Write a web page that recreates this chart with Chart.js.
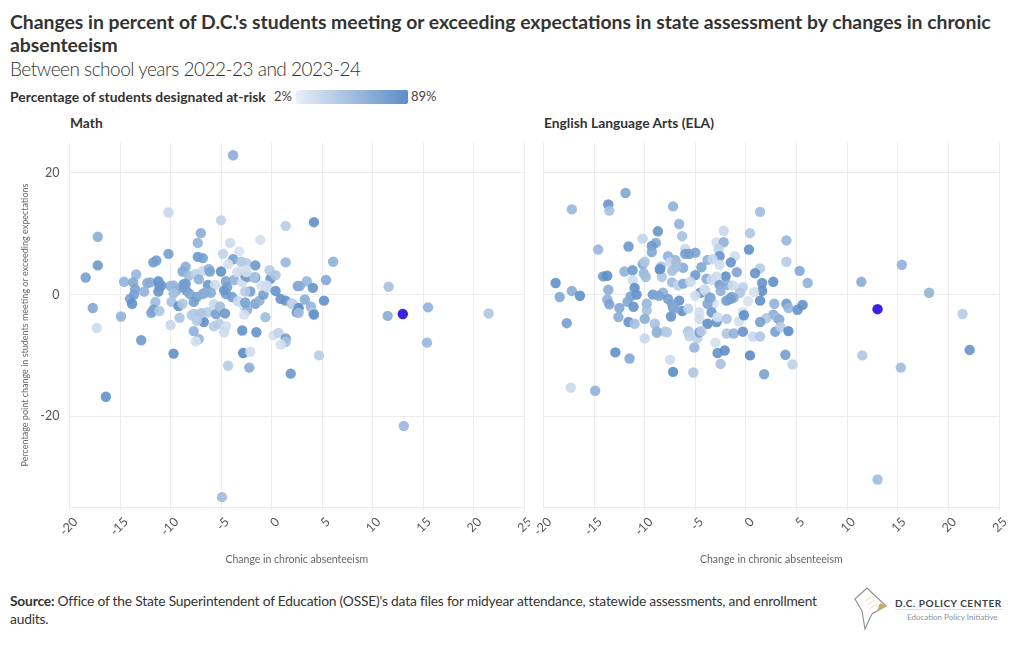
<!DOCTYPE html>
<html>
<head>
<meta charset="utf-8">
<title>Chronic absenteeism and assessment scores</title>
<script src="https://cdn.jsdelivr.net/npm/chart.js@4/dist/chart.umd.min.js"></script>
<style>
    body { margin: 0; width: 1020px; height: 650px; background: #fff; overflow: hidden; position: relative;
        font-family: Lato, "Noto Sans", sans-serif; color: #333; }
    .abs { position: absolute; white-space: nowrap; }
    canvas { position: absolute; }
    #title { left: 10px; top: 10px; font-size: 19.35px; font-weight: 700; line-height: 23px; color: #333; }
    #subtitle { left: 10px; top: 56px; font-size: 19px; font-weight: 300; letter-spacing: -0.5px; line-height: 26px; color: #333; }
    #legendTitle { left: 10px; top: 88px; font-size: 13.9px; font-weight: 700; line-height: 17px; }
    #legendMin { left: 274px; top: 88px; font-size: 13px; line-height: 17px; color: #444; }
    #legendMax { left: 411px; top: 88px; font-size: 13px; line-height: 17px; color: #444; }
    #legendBar { left: 296px; top: 90px; width: 112px; height: 14px; border-radius: 2px;
        background: linear-gradient(to right, #e8eef6, #5c8dc6); }
    .panel { top: 114px; font-size: 13.8px; font-weight: 700; line-height: 17px; }
    #source { left: 10px; top: 592px; font-size: 13.8px; letter-spacing: -0.2px; line-height: 18px; color: #333; }
    #logoName { left: 895px; top: 596px; font-size: 10px; font-weight: 700; letter-spacing: 0.55px; line-height: 14px; color: #3a3f4a; }
    #logoRule { left: 895px; top: 609px; width: 108px; height: 1px; background: #f0dfa8; }
    #logoSub { left: 907px; top: 611px; font-size: 8px; line-height: 12px; color: #8a93a0; }
</style>
</head>
<body>
<div id="title" class="abs">Changes in percent of D.C.'s students meeting or exceeding expectations in state assessment by changes in chronic<br>absenteeism</div>
<div id="subtitle" class="abs">Between school years 2022-23 and 2023-24</div>
<div id="legendTitle" class="abs">Percentage of students designated at-risk</div>
<div id="legendMin" class="abs">2%</div>
<div id="legendBar" class="abs"></div>
<div id="legendMax" class="abs">89%</div>
<div class="abs panel" style="left:70px">Math</div>
<div class="abs panel" style="left:544px">English Language Arts (ELA)</div>
<canvas id="mathChart" width="530" height="445" style="left:0;top:130px"></canvas>
<canvas id="elaChart" width="500" height="445" style="left:510px;top:130px"></canvas>
<div id="source" class="abs"><b>Source:</b> Office of the State Superintendent of Education (OSSE)'s data files for midyear attendance, statewide assessments, and enrollment<br>audits.</div>
<svg class="abs" style="left:853px;top:587px" width="36" height="44" viewBox="0 0 36 44">
    <path d="M2 12 L14 1 L33 19 L19 27 L16 33 L12 42 L9 24 Z" fill="#fff" stroke="#8a8f9a" stroke-width="1.1"/>
    <path d="M24 24 L33 19 L27 16 Z" fill="#c9ad5a"/>
    <path d="M12 14 L20 9 M14 18 L22 13 M16 22 L24 17" stroke="#f0dfa8" stroke-width="1"/>
</svg>
<div id="logoName" class="abs">D.C. POLICY CENTER</div>
<div id="logoRule" class="abs"></div>
<div id="logoSub" class="abs">Education Policy Initiative</div>

<script>
// Ticks
const xTicks = [-20, -15, -10, -5, 0, 5, 10, 15, 20, 25];
const yTicks = [20, 0, -20];

// Math panel: change in chronic absenteeism, point change in score, percent at-risk
const mathChange = [-3.8,-10.2,-5.0,1.4,-17.2,-7.0,-7.3,-4.1,-1.1,-10.2,-7.3,-6.8,-4.8,-3.2,-11.4,-11.7,-17.2,-18.4,-13.4,-14.6,-13.7,-13.5,-12.6,-12.3,-12.0,-11.2,-11.1,-11.2,-13.6,-14.0,-13.8,-11.5,-17.7,-14.9,-17.3,-11.7,-11.9,-11.1,-10.0,-9.7,-9.6,-9.9,-9.2,-8.8,-9.1,-10.0,-8.5,-8.8,-8.2,-8.7,-8.4,-8.1,-7.4,-7.7,-7.5,-6.8,-7.2,-6.2,-6.1,-5.0,-6.3,-5.6,-6.6,-6.0,-4.5,-3.7,-4.4,-4.5,-3.9,-3.3,-2.7,-2.4,-1.6,-1.2,-0.8,-2.1,-2.6,-2.9,-3.8,-4.3,-3.0,-2.5,-1.6,-3.0,-2.5,-1.8,-1.6,-2.4,-0.1,-0.2,0.4,1.4,-1.0,-0.4,0.4,0.9,1.4,2.0,2.6,2.6,2.5,-7.7,-7.1,-6.7,-6.3,-5.7,-5.5,-5.1,-4.6,-5.7,-5.2,-4.5,-4.7,-7.7,-7.2,-7.5,-12.9,-9.7,-16.4,-4.9,-4.3,-2.9,-1.5,-0.6,-2.7,-2.8,-2.1,-2.2,0.2,0.7,1.4,1.4,0.9,1.9,4.2,6.1,5.4,3.5,2.8,4.1,5.2,3.3,2.1,2.7,2.7,3.9,4.1,4.2,4.7,11.6,11.5,15.5,21.5,15.4,13.1,-9.4,-9.7,-6.8,-4.7,-2.6,-1.7,-0.5,-2.6,-6.9,-2.5,-10.9,-8.7,-8.5,-7.9,-7.1,-7.4,-3.4];
const mathScore = [22.9,13.5,12.2,11.3,9.5,10.1,8.5,8.5,9.0,6.7,6.2,6.0,6.7,7.1,5.6,5.3,4.8,2.8,3.3,2.1,2.0,0.9,0.5,1.9,2.0,2.2,1.4,0.5,0.0,-0.7,-1.5,-1.2,-2.2,-3.6,-5.5,-2.5,-3.0,-2.7,1.4,1.5,0.4,-1.2,-1.9,-1.5,-3.8,-5.0,4.6,3.8,3.1,1.7,0.6,0.1,-0.4,-1.2,3.4,3.9,2.5,4.2,3.8,3.8,1.6,1.6,0.3,0.3,2.2,2.4,1.2,0.1,-0.4,-1.1,-1.9,-2.5,-1.5,-1.0,0.0,0.5,0.5,2.0,5.8,5.0,5.4,5.2,4.8,3.8,4.0,2.8,2.8,2.9,2.6,4.0,3.2,5.3,1.5,1.2,0.6,-0.7,-1.0,-1.5,1.4,-2.2,-2.9,-3.2,-4.2,-4.5,-2.9,-1.6,-3.2,-2.0,-3.1,-5.2,-4.8,-5.2,-6.2,-6.0,-7.3,-7.7,-7.5,-9.7,-16.8,-33.3,-11.7,-5.9,-6.2,-3.7,-3.3,-9.6,-9.4,-12.0,-6.7,-6.3,-7.2,-7.8,-8.2,-13.0,11.9,5.4,2.4,2.2,1.4,1.1,-1.0,-0.8,-1.5,-2.2,-3.0,-2.0,-2.9,-3.3,-10.0,1.3,-3.5,-2.1,-3.1,-7.9,-21.6,0.7,0.2,0.1,0.7,3.1,2.9,1.5,-1.3,-3.0,3.7,1.5,1.2,1.8,-3.4,-3.2,-4.3,3.7];
const mathRisk = [55,15,20,25,55,55,50,12,8,70,75,70,18,6,70,70,75,70,45,50,60,65,50,55,55,80,80,80,65,70,85,40,60,50,12,70,65,30,50,45,45,35,85,30,30,15,55,60,40,75,70,60,65,70,20,15,50,45,65,85,75,12,55,55,65,50,70,70,70,15,10,50,65,50,70,70,25,10,70,8,30,25,75,8,8,15,75,70,75,25,30,45,8,8,80,80,80,25,70,85,75,30,30,85,25,15,70,40,75,25,25,10,12,50,45,8,75,85,85,40,25,85,80,40,8,90,10,55,8,20,70,35,8,75,85,50,60,45,55,80,85,55,20,80,40,50,30,85,25,35,55,50,30,45,45,50,35,55,75,70,30,10,65,25,8,75,70,70,25,30,25,10];

// ELA panel
const elaChange = [-17.2,-13.6,-13.5,-11.9,-7.2,1.4,-6.6,-8.7,-6.3,-10.2,-2.2,-2.9,-2.2,0.4,-8.9,-9.3,-9.3,-14.6,-11.6,-6.0,-6.0,-5.6,-5.0,-2.7,0.3,-2.6,-1.1,-7.7,-3.8,-3.3,-1.5,-7.0,-7.5,-10.2,-10.0,-8.4,-8.5,-6.2,-4.4,-2.6,1.4,0.9,-0.9,-12.0,-11.2,-14.1,-13.7,-10.1,-9.9,-8.3,-7.3,-5.0,-2.0,-2.9,-3.9,-18.8,-11.2,-11.0,-7.3,-6.7,-6.2,-5.5,-3.4,-2.6,-1.8,-1.3,-0.3,1.6,1.6,2.7,0.8,-0.6,-2.5,-17.2,-18.4,-16.4,-13.6,-11.4,-10.8,-11.7,-11.1,-13.7,-13.5,-9.2,-8.2,-7.7,-6.6,-7.3,-7.2,-6.3,-5.7,-7.4,-9.8,-9.8,-12.5,-12.6,-11.6,-11.0,-10.0,-9.0,-8.8,-8.0,-5.7,-4.5,-5.0,-4.0,-3.6,-3.2,-3.4,-4.6,-4.6,-3.8,-2.9,-2.8,-1.9,-0.7,-0.3,-0.2,0.2,1.4,2.8,2.7,2.0,1.4,3.1,-1.6,-1.4,-1.2,-2.0,-17.7,-12.9,-11.5,-17.3,-14.9,-10.0,-7.2,-7.5,-5.2,-7.8,-8.8,-5.7,-5.6,-4.8,-4.6,-4.4,-5.1,-3.0,-2.8,-2.1,-2.5,-1.9,-1.2,-0.3,0.7,1.4,0.4,1.8,2.9,4.0,4.0,5.3,6.1,11.4,15.4,18.1,21.4,22.1,11.5,15.3,13.0,4.0,4.2,5.1,5.6,3.3,3.4,4.2,3.9,4.6,-6.9,-6.9,-8.5,-3.8,-8.6,-4.1,-7.0,-3.5,-1.5,-1.9];
const elaScore = [14.0,14.8,13.8,16.7,14.5,13.6,11.6,10.4,9.6,9.2,10.5,8.6,8.6,10.1,8.5,8.0,7.0,7.4,7.9,7.5,6.7,6.7,6.9,7.5,7.4,6.3,6.3,6.3,5.7,5.8,5.3,5.7,5.3,5.0,5.4,4.6,4.1,4.4,4.5,4.9,4.3,3.5,3.7,3.8,4.0,3.0,3.1,3.5,2.9,2.9,3.9,3.2,3.0,3.0,2.6,1.9,2.4,1.1,2.0,1.5,1.8,2.1,2.4,1.6,1.6,1.5,1.2,1.9,0.6,2.1,0.4,0.3,0.6,0.6,-0.4,-0.2,0.8,-0.3,0.0,-1.2,-2.0,-0.8,-1.6,0.0,0.3,-0.7,-1.0,-1.6,-2.2,-2.7,-2.3,-3.6,-1.5,-2.6,-2.2,-3.7,-4.5,-4.8,-4.0,-4.8,-6.1,-6.1,-6.1,0.3,-0.2,0.6,-0.5,-1.5,-2.9,-2.9,-4.0,-4.8,-4.5,-3.7,-4.0,-4.4,-2.9,-3.4,-1.1,-1.0,-1.5,-3.3,-3.9,-4.5,-3.9,-0.7,-0.4,-0.5,-1.0,-4.7,-9.5,-10.5,-15.3,-15.8,-7.2,-12.7,-10.7,-12.8,-6.2,-6.3,-6.0,-6.8,-7.2,-6.2,-6.0,-8.7,-7.9,-9.6,-9.2,-11.4,-6.4,-6.4,-6.1,-6.9,-6.9,-10.0,-13.1,-6.1,8.9,5.4,3.9,1.9,2.1,4.9,0.3,-3.2,-9.1,-10.0,-12.0,-30.4,-1.5,-2.2,-2.5,-1.7,-4.1,-5.3,-6.0,-9.9,-11.5,5.3,4.5,4.2,-1.5,-0.2,0.9,-2.3,-0.5,-0.7,-1.0];
const elaRisk = [45,80,35,60,50,40,50,80,35,18,15,10,50,30,60,75,60,45,75,15,70,70,65,20,85,80,10,50,50,15,80,45,15,60,30,35,85,55,60,12,25,80,65,50,75,75,85,45,40,30,35,75,85,12,55,85,12,85,40,20,60,15,12,70,55,12,20,80,85,85,8,30,50,55,60,85,55,65,80,60,80,50,65,75,50,70,80,65,65,85,20,80,45,35,60,55,80,35,55,35,55,30,25,80,10,12,60,8,75,10,12,85,80,8,30,10,8,85,6,85,50,55,30,70,40,70,70,50,10,70,85,60,15,50,15,90,12,30,25,45,25,20,20,70,25,45,8,80,85,35,30,50,80,15,30,90,65,70,45,25,60,50,55,50,50,25,80,30,40,40,75,45,80,85,55,25,90,70,20,40,35,80,60,65,12,60,60,70,70];

// The highlighted school in each panel
const highlightChange = [13.0];
const mathHighlightScore = [-3.2];
const elaHighlightScore = [-2.4];
const highlightColor = '#3b22e2';

/**
 * Colour ramp of the legend, from 2% to 89% at-risk
 */
function riskColor(risk) {
    const t = Math.pow(Math.min(1, Math.max(0, (risk - 2) / 87)), 0.85);
    const r = Math.round(226 + (90 - 226) * t);
    const g = Math.round(234 + (140 - 234) * t);
    const b = Math.round(244 + (198 - 244) * t);
    return `rgba(${r}, ${g}, ${b}, 0.9)`;
}

function createScatter(canvasId, changes, scores, risks, highlightScores, options) {
    const points = changes.map((x, i) => ({ x: x, y: scores[i] }));
    const highlight = highlightChange.map((x, i) => ({ x: x, y: highlightScores[i] }));

    return new Chart(document.getElementById(canvasId), {
        type: 'scatter',
        data: {
            datasets: [
                {
                    data: highlight,
                    backgroundColor: highlightColor,
                    pointRadius: 5.2,
                    pointBorderWidth: 0,
                    order: 0
                },
                {
                    data: points,
                    backgroundColor: risks.map(riskColor),
                    pointRadius: 5.2,
                    pointBorderWidth: 0,
                    order: 1
                }
            ]
        },
        options: {
            responsive: false,
            animation: false,
            layout: { padding: { top: 12.5, right: options.rightPad, bottom: 0, left: 0 } },
            plugins: { legend: { display: false }, tooltip: { enabled: false } },
            scales: {
                x: {
                    type: 'linear',
                    min: -20,
                    max: 25,
                    afterBuildTicks: scale => { scale.ticks = xTicks.map(v => ({ value: v })); },
                    afterFit: scale => {
                        scale.height = 67.5;
                        scale.paddingLeft = 0;
                        scale.paddingRight = 0;
                    },
                    border: { display: true, color: '#ececec' },
                    grid: { color: '#ececec', tickLength: 3, tickColor: '#ececec' },
                    ticks: {
                        minRotation: 45,
                        maxRotation: 45,
                        labelOffset: 6,
                        padding: 4,
                        color: '#555',
                        font: { family: 'Lato', size: 12.5 }
                    },
                    title: {
                        display: true,
                        text: 'Change in chronic absenteeism',
                        color: '#666',
                        padding: { top: 0, bottom: 9 },
                        font: { family: 'Lato', size: 10.5 }
                    }
                },
                y: {
                    type: 'linear',
                    min: -35,
                    max: 25,
                    afterBuildTicks: scale => { scale.ticks = yTicks.map(v => ({ value: v })); },
                    afterFit: scale => {
                        scale.width = options.axisWidth;
                        scale.paddingTop = 0;
                        scale.paddingBottom = 0;
                    },
                    border: { display: false },
                    grid: { color: '#ececec', drawTicks: false },
                    ticks: {
                        display: options.showY,
                        padding: 10,
                        color: '#555',
                        font: { family: 'Lato', size: 12.5 }
                    },
                    title: {
                        display: options.showY,
                        text: 'Percentage point change in students meeting or exceeding expectations',
                        color: '#666',
                        padding: { top: 20, bottom: 0 },
                        font: { family: 'Lato', size: 9 }
                    }
                }
            }
        }
    });
}

createScatter('mathChart', mathChange, mathScore, mathRisk, mathHighlightScore,
    { axisWidth: 69.5, rightPad: 6, showY: true });
createScatter('elaChart', elaChange, elaScore, elaRisk, elaHighlightScore,
    { axisWidth: 33.5, rightPad: 11, showY: false });
</script>
</body>
</html>
